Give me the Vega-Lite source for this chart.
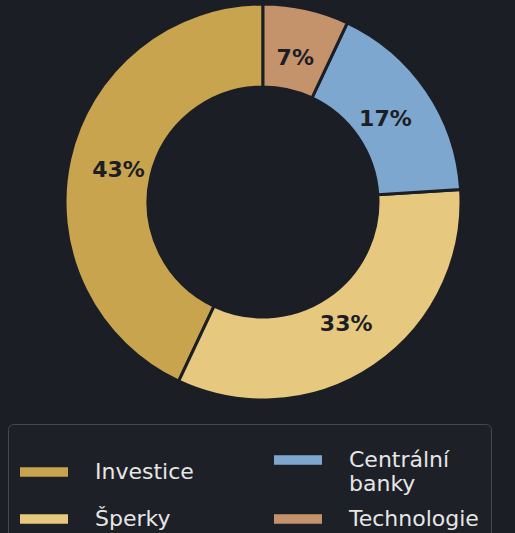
{
  "$schema": "https://vega.github.io/schema/vega-lite/v6.json",
  "width": 526,
  "height": 404,
  "autosize": {"type": "none"},
  "padding": {"left": 0, "top": 0, "right": 0, "bottom": 140},
  "background": "#1c1e25",
  "config": {"view": {"stroke": null}},
  "data": {
    "values": [
      {"kategorie": "Investice", "podil": 0.43},
      {"kategorie": "Šperky", "podil": 0.33},
      {"kategorie": "Centrální banky", "podil": 0.17},
      {"kategorie": "Technologie", "podil": 0.07}
    ]
  },
  "encoding": {
    "theta": {"field": "podil", "type": "quantitative", "stack": true},
    "order": {"field": "podil", "type": "quantitative", "sort": "ascending"}
  },
  "layer": [
    {
      "mark": {"type": "arc", "outerRadius": 198, "innerRadius": 115, "stroke": "#1c1e25", "strokeWidth": 3},
      "encoding": {
        "color": {
          "field": "kategorie",
          "type": "nominal",
          "scale": {
            "domain": ["Investice", "Šperky", "Centrální banky", "Technologie"],
            "range": ["#c9a44e", "#e6c97e", "#7ea7cf", "#c4936c"]
          },
          "legend": {
            "orient": "none",
            "legendX": 8,
            "legendY": 424,
            "title": null,
            "columns": 2,
            "columnPadding": 80,
            "rowPadding": -28,
            "padding": 12,
            "strokeColor": "#45474f",
            "fillColor": "#1e2027",
            "cornerRadius": 5,
            "symbolType": "M-1,-0.2H1V0.2H-1Z",
            "symbolSize": 2304,
            "symbolStrokeWidth": 0,
            "labelFont": "DejaVu Sans",
            "labelFontSize": 22,
            "labelColor": "#e6e6e6",
            "labelOffset": 27,
            "labelLimit": 300,
            "labelExpr": "datum.label == 'Centrální banky' ? ['Centrální', 'banky'] : datum.label",
            "encode": {
              "labels": {
                "update": {
                  "dy": {"signal": "datum.label == 'Centrální banky' ? -13 : 0"}
                }
              }
            }
          }
        }
      }
    },
    {
      "mark": {"type": "text", "radius": 148, "font": "DejaVu Sans", "fontWeight": "bold", "fontSize": 22, "color": "#1c1e25"},
      "encoding": {
        "text": {"field": "podil", "type": "quantitative", "format": ".0%"}
      }
    }
  ]
}
